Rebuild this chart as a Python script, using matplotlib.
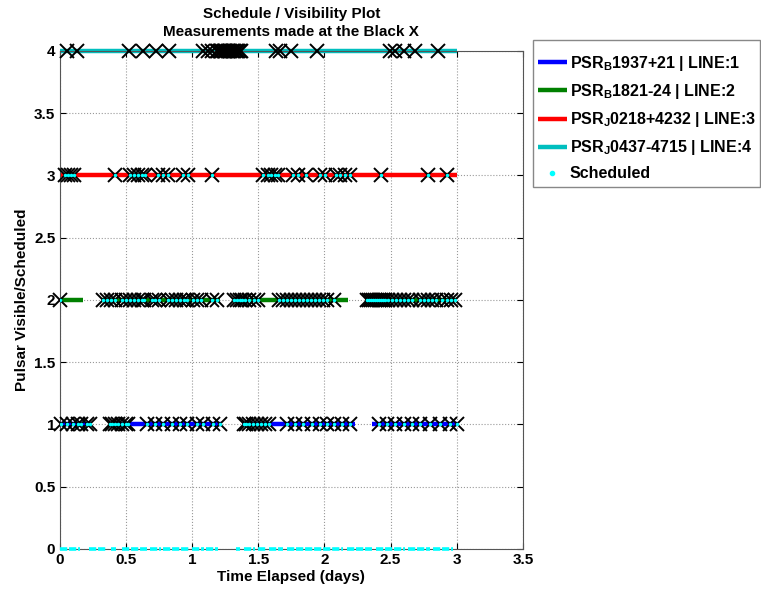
import matplotlib.pyplot as plt
from matplotlib.patches import Rectangle

plt.rcParams['font.family'] = ['Liberation Sans', 'DejaVu Sans']
plt.rcParams['font.weight'] = 'bold'
plt.rcParams['mathtext.fontset'] = 'custom'
plt.rcParams['mathtext.rm'] = 'Liberation Sans:bold'
plt.rcParams['mathtext.bf'] = 'Liberation Sans:bold'

# pulsar names / line numbers
names = [r'PSR$_\mathbf{B}$1937+21', r'PSR$_\mathbf{B}$1821-24',
         r'PSR$_\mathbf{J}$0218+4232', r'PSR$_\mathbf{J}$0437-4715']
line_ids = [1, 2, 3, 4]
colors = ['#0000ff', '#008000', '#ff0000', '#00bfbf']

# visibility windows (days) for each pulsar
vis1 = [(0.0, 0.24), (0.37, 1.22), (1.38, 2.23), (2.36, 3.0)]
vis2 = [(0.0, 0.18), (0.32, 1.21), (1.31, 2.18), (2.31, 3.0)]
vis3 = [(0.0, 3.0)]
vis4 = [(0.0, 3.0)]

# measurement times (black X)
meas1 = [0.015, 0.055, 0.105, 0.14, 0.165, 0.205, 0.23,
         0.38, 0.40, 0.42, 0.44, 0.47, 0.50, 0.52,
         0.66, 0.72, 0.785, 0.85, 0.91, 0.96, 1.035, 1.085, 1.16, 1.21,
         1.39, 1.41, 1.43, 1.46, 1.49, 1.52, 1.55, 1.58,
         1.715, 1.78, 1.84, 1.905, 1.965, 2.02, 2.07, 2.13, 2.195,
         2.41, 2.47, 2.535, 2.6, 2.66, 2.725, 2.8, 2.875, 2.95, 3.0]
meas2 = [0.0,
         0.33, 0.36, 0.39, 0.42, 0.47, 0.50, 0.53, 0.56, 0.59, 0.62,
         0.64, 0.70, 0.72, 0.75, 0.82, 0.85, 0.88, 0.91, 0.94, 0.96,
         1.01, 1.04, 1.07, 1.15, 1.19,
         1.32, 1.34, 1.36, 1.38, 1.40, 1.43, 1.47, 1.50,
         1.66, 1.69, 1.72, 1.75, 1.78, 1.81, 1.84, 1.87, 1.90, 1.93,
         1.96, 1.99, 2.02, 2.07,
         2.32, 2.34, 2.35, 2.37, 2.38, 2.40, 2.41, 2.43, 2.44, 2.46,
         2.48, 2.51, 2.54, 2.57, 2.60, 2.63, 2.66, 2.72, 2.75, 2.78,
         2.81, 2.84, 2.89, 2.93, 2.96, 2.99]
meas3 = [0.04, 0.065, 0.09, 0.11, 0.42, 0.535, 0.565, 0.59, 0.62, 0.645,
         0.745, 0.785, 0.82, 0.935, 0.97, 1.15,
         1.54, 1.575, 1.6, 1.625, 1.65, 1.765, 1.8, 1.865,
         1.965, 2.005, 2.09, 2.12, 2.155, 2.195, 2.43, 2.785, 2.925]
meas4 = [0.055, 0.13, 0.525, 0.63, 0.73, 0.83, 1.085, 1.12, 1.15,
         1.19, 1.20, 1.21, 1.22, 1.23, 1.24, 1.25, 1.26, 1.27, 1.28,
         1.29, 1.30, 1.31, 1.32, 1.33, 1.34, 1.35, 1.36, 1.37,
         1.635, 1.665, 1.75, 1.945, 2.495, 2.535, 2.6, 2.685, 2.855]

# scheduled times with nothing on (plotted at 0)
idle = [(0.0, 0.155), (0.22, 0.36), (0.39, 0.43), (0.47, 0.66),
        (0.68, 0.77), (0.78, 0.985), (1.0, 1.09), (1.11, 1.2),
        (1.33, 1.36), (1.39, 1.48), (1.5, 1.56), (1.585, 1.69),
        (1.715, 2.14), (2.17, 2.36), (2.39, 2.61), (2.63, 2.8),
        (2.82, 2.97)]

vis = [vis1, vis2, vis3, vis4]
meas = [meas1, meas2, meas3, meas4]

fig = plt.figure(figsize=(7.61, 5.94), dpi=100)
ax = fig.add_axes([0.0782, 0.0758, 0.609, 0.8384])

for i in range(4):
    for k, (s, e) in enumerate(vis[i]):
        ax.plot([s, e], [line_ids[i], line_ids[i]], color=colors[i], lw=3.2,
                solid_capstyle='butt', zorder=2, clip_on=False,
                label=f'{names[i]} | LINE:{line_ids[i]}' if k == 0 else None)

for i in range(4):
    ax.plot(meas[i], [line_ids[i]] * len(meas[i]), 'x', color='black',
            ms=10, mew=1.4, zorder=3, clip_on=False)

for k, (s, e) in enumerate(idle):
    ax.plot([s, e], [0, 0], color='cyan', lw=2.6, linestyle=(0, (2.0, 0.5)),
            zorder=4, clip_on=False)

sched_t = []
sched_y = []
for i in range(3):
    sched_t += meas[i]
    sched_y += [line_ids[i]] * len(meas[i])
ax.plot(sched_t, sched_y, '.', color='cyan', ms=3, zorder=5, label='Scheduled')

ax.set_xlim(0, 3.5)
ax.set_ylim(0, 4)
ax.set_xticks([0, 0.5, 1, 1.5, 2, 2.5, 3, 3.5])
ax.set_xticklabels(['0', '0.5', '1', '1.5', '2', '2.5', '3', '3.5'])
ax.set_yticks([0, 0.5, 1, 1.5, 2, 2.5, 3, 3.5, 4])
ax.set_yticklabels(['0', '0.5', '1', '1.5', '2', '2.5', '3', '3.5', '4'])
ax.tick_params(direction='in', labelsize=11, length=4, top=True, right=True, pad=3)
ax.grid(True, linestyle=':', color='#999999', lw=0.8)
for sp in ax.spines.values():
    sp.set_color('#555555')

ax.set_xlabel('Time Elapsed (days)', fontsize=11, fontweight='bold', labelpad=2)
ax.set_ylabel('Pulsar Visible/Scheduled', fontsize=11, fontweight='bold', labelpad=4)
ax.set_title('Schedule / Visibility Plot\nMeasurements made at the Black X',
             fontsize=11, fontweight='bold', pad=11, linespacing=1.3)

# legend box drawn by hand, entries without frame
fig.patches.append(Rectangle((533 / 761, 1 - 187 / 594), 227 / 761, 147 / 594,
                             transform=fig.transFigure, facecolor='white',
                             edgecolor='#888888', lw=1.0, zorder=0))
leg = fig.legend(loc='upper left', bbox_to_anchor=(526 / 761, 1 - 42 / 594),
                 borderaxespad=0, fontsize=11.5, handlelength=1.8,
                 handletextpad=0.2, labelspacing=0.57, frameon=False,
                 borderpad=0.75)
leg.legend_handles[-1].set_markersize(6)

plt.savefig('out.png', dpi=100)
